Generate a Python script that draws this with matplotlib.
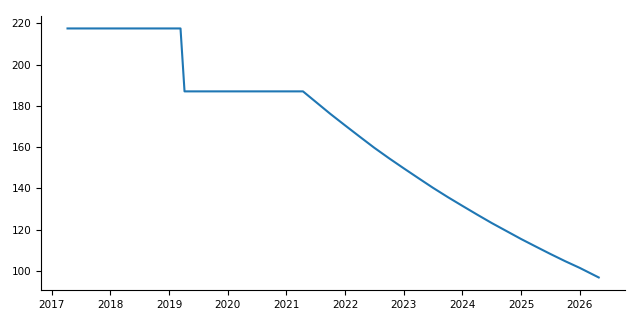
import matplotlib
matplotlib.use("Agg")
import matplotlib.pyplot as plt
import pandas as pd

# === Values === #
dates = ["2017-04-10", "2019-03-14", "2019-04-08", "2021-04-14",
         "2021-07-01", "2021-10-01", "2022-01-01", "2022-04-01",
         "2022-07-01", "2022-10-01", "2023-01-01", "2023-04-01",
         "2023-07-01", "2023-10-01", "2024-01-01", "2024-04-01",
         "2024-07-01", "2024-10-01", "2025-01-01", "2025-04-01",
         "2025-07-01", "2025-10-01", "2026-01-01", "2026-04-28"]
values = [217.5, 217.5, 187.0, 187.0,
          182.0, 176.1, 170.5, 165.1,
          159.7, 154.6, 149.7, 145.0,
          140.3, 135.8, 131.5, 127.3,
          123.2, 119.3, 115.4, 111.8,
          108.2, 104.7, 101.4, 96.8]

x = pd.to_datetime(dates)

fig = plt.figure(figsize=(6.4, 3.2), dpi=100)
ax = fig.add_axes([0.064, 0.094, 0.913, 0.856])
ax.plot(x, values, color="#1f77b4", linewidth=1.5)

ax.spines["top"].set_visible(False)
ax.spines["right"].set_visible(False)
ax.tick_params(labelsize=7.5)
ax.set_yticks([100, 120, 140, 160, 180, 200, 220])

fig.savefig("out.png", dpi=100)
